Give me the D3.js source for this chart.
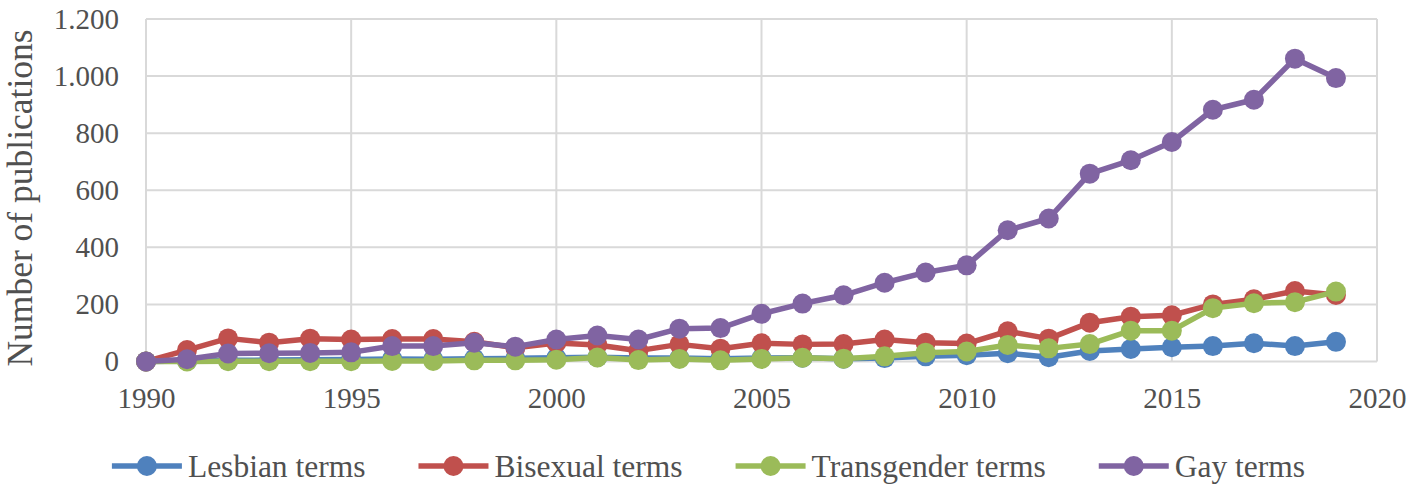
<!DOCTYPE html>
<html>
<head>
<meta charset="utf-8">
<script src="https://d3js.org/d3.v7.min.js"></script>
<style>
  body { margin: 0; background: #fff; }
  text { font-family: "Liberation Serif", "Times New Roman", serif; fill: #505050; }
</style>
</head>
<body>
<div id="chart"></div>
<script>
// publication counts per year
var years = d3.range(1990, 2020);
var lesbianTerms = [0, 2, 4, 5, 6, 7, 9, 8, 10, 11, 13, 15, 12, 12, 10, 12, 13, 10, 12, 18, 22, 29, 15, 37, 44, 50, 54, 64, 54, 69];
var bisexualTerms = [0, 40, 81, 66, 80, 77, 79, 79, 69, 48, 65, 58, 38, 60, 45, 64, 60, 61, 77, 66, 63, 106, 80, 136, 157, 162, 200, 218, 247, 233];
var transgenderTerms = [0, 0, 1, 1, 1, 1, 2, 2, 4, 4, 6, 14, 5, 9, 4, 9, 13, 10, 18, 31, 35, 58, 46, 61, 108, 108, 187, 204, 208, 245];
var gayTerms = [0, 8, 28, 29, 30, 32, 54, 54, 66, 52, 77, 91, 77, 115, 117, 167, 203, 232, 276, 312, 337, 460, 501, 658, 705, 769, 882, 917, 1061, 993];

var seriesNames = ["Lesbian terms", "Bisexual terms", "Transgender terms", "Gay terms"];
var seriesValues = [lesbianTerms, bisexualTerms, transgenderTerms, gayTerms];
var seriesColors = ["#4F81BD", "#C0504D", "#9BBB59", "#8064A2"];

var xTicks = [1990, 1995, 2000, 2005, 2010, 2015, 2020];
var yTicks = [0, 200, 400, 600, 800, 1000, 1200];

document.addEventListener('DOMContentLoaded', function() {
  drawChart();
});

function drawChart(){
    var totalWidth = 1417, totalHeight = 492;
    var margin = {top: 19, right: 40, bottom: 130.5, left: 146},
    width = totalWidth - margin.left - margin.right,
    height = totalHeight - margin.top - margin.bottom;

    var markerR = 10;

    var x = d3.scaleLinear().domain([1990, 2020]).range([0, width]);
    var y = d3.scaleLinear().domain([0, 1200]).range([height, 0]);

    // 1.200 style thousands separator
    var locale = d3.formatLocale({decimal: ",", thousands: ".", grouping: [3], currency: ["", ""]});
    var fmt = locale.format(",d");

    var root = d3.select("#chart")
        .append("svg")
        .attr("width", totalWidth)
        .attr("height", totalHeight);

    var svg = root.append("g")
        .attr("transform", "translate(" + margin.left + "," + margin.top + ")");

    // gridlines
    svg.append("g")
      .selectAll("line")
      .data(yTicks)
      .join("line")
        .attr("x1", 0).attr("x2", width)
        .attr("y1", function(d) { return y(d); })
        .attr("y2", function(d) { return y(d); })
        .attr("stroke", "#d9d9d9")
        .attr("stroke-width", 2);

    svg.append("g")
      .selectAll("line")
      .data(xTicks)
      .join("line")
        .attr("x1", function(d) { return x(d); })
        .attr("x2", function(d) { return x(d); })
        .attr("y1", 0).attr("y2", height)
        .attr("stroke", "#d9d9d9")
        .attr("stroke-width", 2);

    // X Axis
    var xAxis = svg.append("g")
        .attr("transform", "translate(0," + height + ")")
        .call(d3.axisBottom(x).tickValues(xTicks).tickFormat(d3.format("d")).tickSize(0));
    xAxis.select(".domain").remove();
    xAxis.selectAll("text")
        .attr("y", 46)
        .attr("dy", null)
        .style("font-size", "29px");

    // Y Axis
    var yAxis = svg.append("g")
        .call(d3.axisLeft(y).tickValues(yTicks).tickFormat(fmt).tickSize(0));
    yAxis.select(".domain").remove();
    yAxis.selectAll("text")
        .attr("x", -27)
        .style("font-size", "29px");

    // lines and markers, later series on top
    var valueline = d3.line()
        .x(function(d, i) { return x(years[i]); })
        .y(function(d) { return y(d); });

    seriesValues.forEach(function(vals, k) {
      var g = svg.append("g");
      g.append("path")
        .datum(vals)
        .attr("fill", "none")
        .attr("stroke", seriesColors[k])
        .attr("stroke-width", 5.5)
        .attr("stroke-linejoin", "round")
        .attr("d", valueline);
      g.selectAll("circle")
        .data(vals)
        .join("circle")
          .attr("cx", function(d, i) { return x(years[i]); })
          .attr("cy", function(d) { return y(d); })
          .attr("r", markerR)
          .attr("fill", seriesColors[k]);
    });

    // y-axis title
    root.append("text")
        .attr("transform", "translate(32,198) rotate(-90)")
        .style("text-anchor", "middle")
        .style("font-size", "35.5px")
        .text("Number of publications");

    // legend
    var legendY = 466, lineLen = 70, textGap = 6, itemGap = 53;
    var legend = root.append("g");
    var items = legend.selectAll("g")
      .data(seriesNames)
      .join("g");
    items.append("line")
        .attr("x1", 0).attr("x2", lineLen)
        .attr("y1", 0).attr("y2", 0)
        .attr("stroke", function(d, i) { return seriesColors[i]; })
        .attr("stroke-width", 5.5);
    items.append("circle")
        .attr("cx", lineLen / 2)
        .attr("r", markerR)
        .attr("fill", function(d, i) { return seriesColors[i]; });
    items.append("text")
        .attr("x", lineLen + textGap)
        .attr("dy", "0.35em")
        .style("font-size", "31.5px")
        .text(function(d) { return d; });

    var offsets = [], pos = 0;
    items.each(function() {
      offsets.push(pos);
      var w = d3.select(this).select("text").node().getComputedTextLength();
      pos += lineLen + textGap + w + itemGap;
    });
    var total = pos - itemGap;
    var start = (totalWidth - total) / 2;
    items.attr("transform", function(d, i) { return "translate(" + (start + offsets[i]) + "," + legendY + ")"; });
}
</script>
</body>
</html>
